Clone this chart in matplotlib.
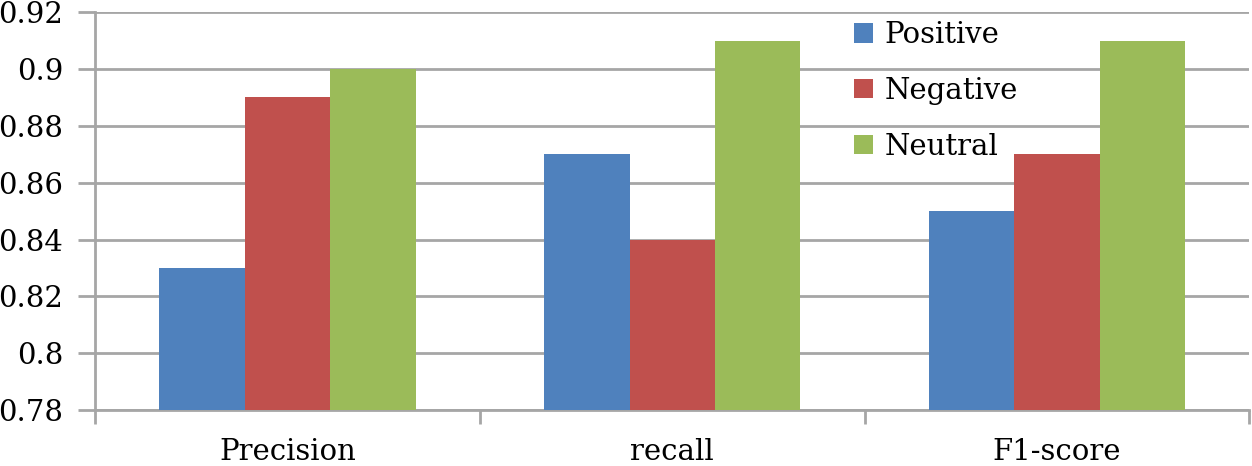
import matplotlib
matplotlib.use("Agg")
import matplotlib.pyplot as plt
import numpy as np

categories = ["Precision", "recall", "F1-score"]
series_names = ["Positive", "Negative", "Neutral"]
positive = [0.83, 0.87, 0.85]
negative = [0.89, 0.84, 0.87]
neutral = [0.90, 0.91, 0.91]
colors = ["#4F81BD", "#C0504D", "#9BBB59"]

plt.rcParams['font.family'] = ['DejaVu Serif']

fig = plt.figure(figsize=(12.52, 4.66), dpi=100)
ax = fig.add_axes([0.076, 0.12, 0.922, 0.854])

x = np.arange(len(categories))
w = 0.222
for i, (vals, name) in enumerate(zip([positive, negative, neutral], series_names)):
    ax.bar(x + (i - 1) * w, vals, width=w, color=colors[i], label=name, zorder=3)

grid_c = "#a6a6a6"
ax.set_ylim(0.78, 0.92)
ax.set_yticks(np.arange(0.78, 0.921, 0.02))
ax.set_yticklabels(["0.78", "0.8", "0.82", "0.84", "0.86", "0.88", "0.9", "0.92"])
ax.yaxis.grid(True, color=grid_c, linewidth=2, zorder=0)

ax.set_xlim(-0.5, 2.5)
ax.set_xticks([-0.5, 0.5, 1.5, 2.5])
ax.set_xticklabels([])
ax.set_xticks(x, minor=True)
ax.set_xticklabels(categories, minor=True)
ax.tick_params(axis='x', which='major', length=10, width=2, color=grid_c, direction='out')
ax.tick_params(axis='x', which='minor', length=0, pad=20, labelsize=21)
ax.tick_params(axis='y', length=12, width=2, color=grid_c, labelsize=21, pad=11)

for s in ["top", "right"]:
    ax.spines[s].set_visible(False)
for s in ["left", "bottom"]:
    ax.spines[s].set_color(grid_c)
    ax.spines[s].set_linewidth(2)

ax.legend(loc="upper left", bbox_to_anchor=(0.657, 0.977), frameon=False, fontsize=21,
          borderpad=0, borderaxespad=0,
          handlelength=0.65, handleheight=0.65, handletextpad=0.4, labelspacing=0.95)

fig.savefig("out.png", dpi=100)
